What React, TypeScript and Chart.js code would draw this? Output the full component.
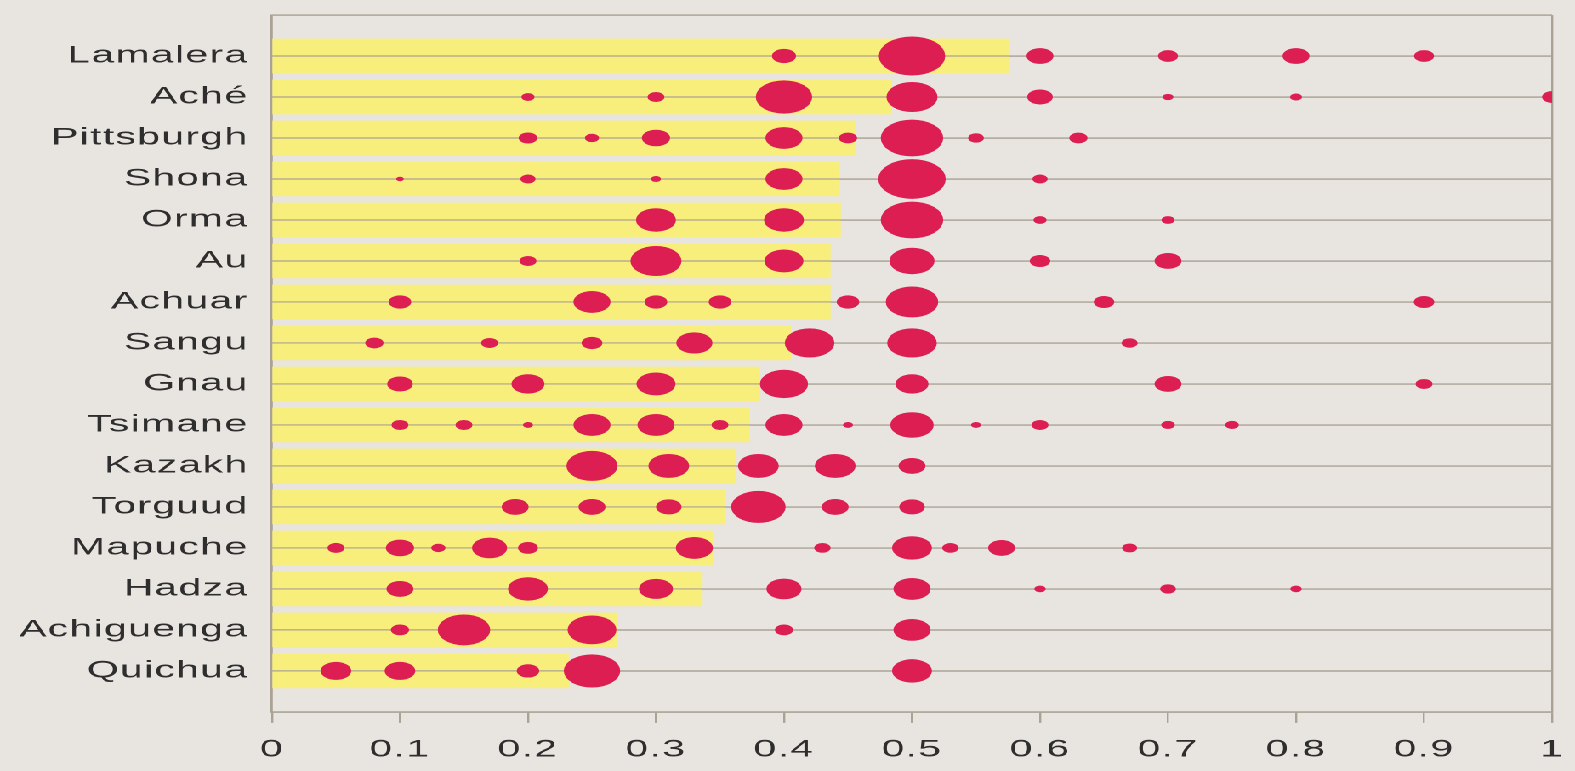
import React, { useEffect, useRef } from 'react';
import { Chart, registerables } from 'chart.js';

Chart.register(...registerables);

// ---------- data ----------
const categories = [
  'Lamalera', 'Aché', 'Pittsburgh', 'Shona', 'Orma', 'Au', 'Achuar', 'Sangu',
  'Gnau', 'Tsimane', 'Kazakh', 'Torguud', 'Mapuche', 'Hadza', 'Achiguenga', 'Quichua',
];

// mean offer (yellow bars)
const meanOffers = [
  0.575, 0.484, 0.456, 0.443, 0.444, 0.436, 0.436, 0.405,
  0.381, 0.373, 0.3625, 0.354, 0.344, 0.336, 0.269, 0.232,
];

// offer levels observed in each society (bubble positions)
const bubbleOffers = [
  [0.4, 0.5, 0.6, 0.7, 0.8, 0.9],
  [0.2, 0.3, 0.4, 0.5, 0.6, 0.7, 0.8, 1.0],
  [0.2, 0.25, 0.3, 0.4, 0.45, 0.5, 0.55, 0.63],
  [0.1, 0.2, 0.3, 0.4, 0.5, 0.6],
  [0.3, 0.4, 0.5, 0.6, 0.7],
  [0.2, 0.3, 0.4, 0.5, 0.6, 0.7],
  [0.1, 0.25, 0.3, 0.35, 0.45, 0.5, 0.65, 0.9],
  [0.08, 0.17, 0.25, 0.33, 0.42, 0.5, 0.67],
  [0.1, 0.2, 0.3, 0.4, 0.5, 0.7, 0.9],
  [0.1, 0.15, 0.2, 0.25, 0.3, 0.35, 0.4, 0.45, 0.5, 0.55, 0.6, 0.7, 0.75],
  [0.25, 0.31, 0.38, 0.44, 0.5],
  [0.19, 0.25, 0.31, 0.38, 0.44, 0.5],
  [0.05, 0.1, 0.13, 0.17, 0.2, 0.33, 0.43, 0.5, 0.53, 0.57, 0.67],
  [0.1, 0.2, 0.3, 0.4, 0.5, 0.6, 0.7, 0.8],
  [0.1, 0.15, 0.25, 0.4, 0.5],
  [0.05, 0.1, 0.2, 0.25, 0.5],
];

// share of offers made at each level (bubble area)
const bubbleShares = [
  [0.08, 0.61, 0.10, 0.055, 0.10, 0.055],
  [0.024, 0.04, 0.44, 0.36, 0.09, 0.016, 0.02, 0.055],
  [0.048, 0.028, 0.11, 0.19, 0.046, 0.54, 0.035, 0.046],
  [0.008, 0.032, 0.014, 0.19, 0.63, 0.032],
  [0.22, 0.22, 0.54, 0.024, 0.024],
  [0.04, 0.36, 0.21, 0.28, 0.058, 0.10],
  [0.07, 0.19, 0.07, 0.07, 0.07, 0.38, 0.058, 0.058],
  [0.046, 0.04, 0.06, 0.18, 0.34, 0.34, 0.036],
  [0.09, 0.15, 0.21, 0.32, 0.15, 0.10, 0.04],
  [0.04, 0.04, 0.014, 0.19, 0.19, 0.04, 0.19, 0.014, 0.26, 0.014, 0.04, 0.026, 0.026],
  [0.36, 0.23, 0.23, 0.23, 0.10],
  [0.10, 0.10, 0.09, 0.41, 0.10, 0.09],
  [0.04, 0.11, 0.028, 0.17, 0.055, 0.19, 0.038, 0.22, 0.038, 0.10, 0.032],
  [0.10, 0.22, 0.16, 0.17, 0.19, 0.018, 0.035, 0.018],
  [0.046, 0.38, 0.33, 0.046, 0.19],
  [0.13, 0.13, 0.07, 0.44, 0.22],
];

const xTicks = [0, 0.1, 0.2, 0.3, 0.4, 0.5, 0.6, 0.7, 0.8, 0.9, 1];

// ---------- styles ----------
const BG = '#e8e5e1';
const YELLOW = '#f8ee7b';
const RED = '#dc1e52';
const LINE = '#aaa294';
const TEXT = '#2e2e2e';
const FONT = "'Liberation Sans', Arial, sans-serif";
const INNER_W = 926;
const H = 771;
const STRETCH = 1575 / INNER_W;

const letterSpacingPlugin = {
  id: 'letterSpacing',
  beforeDraw(chart: any) {
    try {
      chart.ctx.letterSpacing = '0.8px';
    } catch (e) {
      /* ignore */
    }
  },
};

const gridOverBars = {
  id: 'gridOverBars',
  afterDatasetDraw(chart: any, args: any) {
    if (args.meta.type !== 'bar') return;
    const y = chart.scales.y;
    const { left, right } = chart.chartArea;
    const ctx = chart.ctx;
    ctx.save();
    ctx.strokeStyle = LINE;
    ctx.lineWidth = 1.2;
    for (let i = 0; i < y.ticks.length; i++) {
      const py = y.getPixelForTick(i);
      ctx.beginPath();
      ctx.moveTo(left, py);
      ctx.lineTo(right, py);
      ctx.stroke();
    }
    ctx.restore();
  },
};

export default function App() {
  const ref = useRef<HTMLCanvasElement>(null);

  useEffect(() => {
    document.body.style.margin = '0';
    document.body.style.overflow = 'hidden';
    document.body.style.background = BG;
    const labels = ['', ...categories, ''];
    const bubbles = categories.flatMap((c, i) =>
      bubbleOffers[i].map((x, j) => ({ x, y: c, r: 25 * Math.sqrt(bubbleShares[i][j]) }))
    );
    const chart = new Chart(ref.current as HTMLCanvasElement, {
      type: 'bar',
      data: {
        labels,
        datasets: [
          {
            type: 'bar',
            data: [null, ...meanOffers, null] as any,
            backgroundColor: YELLOW,
            borderWidth: 0,
            barThickness: 34,
            order: 2,
          } as any,
          {
            type: 'bubble',
            data: bubbles as any,
            backgroundColor: RED,
            borderWidth: 0,
            order: 1,
          } as any,
        ],
      },
      options: {
        indexAxis: 'y',
        responsive: true,
        maintainAspectRatio: false,
        animation: false,
        devicePixelRatio: 2,
        layout: { autoPadding: false, padding: { top: 15, right: 13.5, bottom: -5.9, left: 0 } },
        plugins: { legend: { display: false }, tooltip: { enabled: false } },
        scales: {
          x: {
            type: 'linear',
            position: 'bottom',
            min: 0,
            max: 1,
            afterBuildTicks: (s: any) => {
              s.ticks = xTicks.map((v) => ({ value: v }));
            },
            afterFit: (s: any) => {
              s.paddingLeft = 0;
              s.paddingRight = 0;
            },
            grid: {
              drawOnChartArea: true,
              drawTicks: true,
              tickLength: 11,
              tickWidth: 1.2,
              tickColor: LINE,
              lineWidth: 1.2,
              color: (ctx: any) =>
                ctx.tick && Math.abs(ctx.tick.value - 1) < 1e-6 ? LINE : 'rgba(0,0,0,0)',
            },
            border: { display: true, color: LINE, width: 1.2 },
            ticks: {
              autoSkip: false,
              maxRotation: 0,
              padding: 12.6,
              color: TEXT,
              font: { family: FONT, size: 24 },
              callback: (v: any) => String(v),
            },
          },
          y: {
            type: 'category',
            offset: false,
            afterFit: (s: any) => {
              s.width = 159.9;
              s.paddingTop = 0;
              s.paddingBottom = 0;
            },
            grid: { offset: false, drawTicks: false, color: LINE, lineWidth: 1.2 },
            border: { display: true, color: LINE, width: 1.4 },
            ticks: {
              autoSkip: false,
              padding: 13.8,
              color: TEXT,
              font: { family: FONT, size: 24 },
            },
          },
        },
      } as any,
      plugins: [letterSpacingPlugin, gridOverBars],
    });
    return () => chart.destroy();
  }, []);

  return (
    <div
      style={{
        position: 'fixed',
        left: 0,
        top: 0,
        width: INNER_W,
        height: H,
        transform: `scaleX(${STRETCH})`,
        transformOrigin: '0 0',
        background: BG,
      }}
    >
      <canvas ref={ref} />
    </div>
  );
}
